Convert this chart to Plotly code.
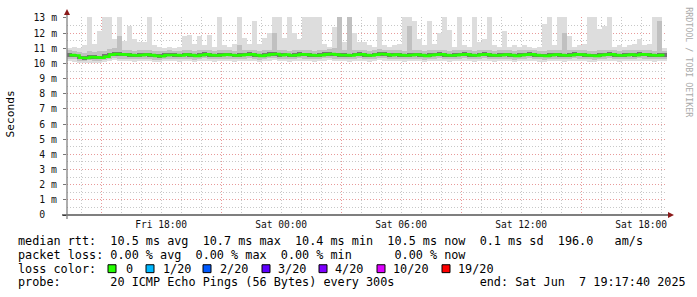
import plotly.graph_objects as go
import pandas as pd

# ---------------- data ----------------
start_time = "2025-06-06 13:17:40"
end_time = "2025-06-07 19:17:40"
step_minutes = 15

median_rtt = [
    10.55, 10.52, 10.38, 10.36, 10.42, 10.40, 10.38, 10.45, 10.58, 10.62,
    10.60, 10.58, 10.55, 10.52, 10.55, 10.58, 10.55, 10.50, 10.48, 10.55,
    10.56, 10.55, 10.52, 10.58, 10.55, 10.50, 10.55, 10.60, 10.55, 10.52,
    10.55, 10.58, 10.56, 10.52, 10.55, 10.58, 10.60, 10.55, 10.50, 10.55,
    10.60, 10.62, 10.55, 10.58, 10.52, 10.55, 10.60, 10.58, 10.55, 10.52,
    10.55, 10.60, 10.62, 10.58, 10.55, 10.55, 10.52, 10.58, 10.60, 10.55,
    10.52, 10.58, 10.62, 10.60, 10.55, 10.58, 10.55, 10.52, 10.55, 10.58,
    10.55, 10.50, 10.55, 10.58, 10.60, 10.55, 10.52, 10.55, 10.58, 10.60,
    10.55, 10.52, 10.58, 10.60, 10.55, 10.52, 10.55, 10.58, 10.55, 10.50,
    10.55, 10.58, 10.60, 10.55, 10.52, 10.50, 10.55, 10.58, 10.55, 10.52,
    10.55, 10.60, 10.58, 10.55, 10.52, 10.50, 10.55, 10.58, 10.60, 10.55,
    10.52, 10.55, 10.58, 10.55, 10.60, 10.58, 10.55, 10.52, 10.55, 10.55,
]

max_rtt = [
    11.0, 11.1, 11.0, 11.2, 13.2, 11.3, 12.15, 13.2, 13.2, 11.6,
    13.2, 11.5, 12.5, 11.6, 11.4, 11.4, 13.2, 11.2, 11.1, 11.0,
    11.1, 11.0, 11.1, 11.8, 11.85, 11.3, 11.8, 11.2, 11.9, 11.1,
    13.2, 11.2, 11.1, 11.3, 13.2, 11.7, 11.3, 12.8, 11.3, 11.7,
    12.0, 13.2, 13.2, 11.7, 13.2, 12.0, 11.6, 13.2, 13.2, 13.2,
    13.2, 11.3, 11.1, 12.4, 13.2, 11.4, 13.2, 12.0, 11.4, 11.4,
    11.2, 11.1, 13.2, 11.2, 11.1, 11.2, 11.3, 13.2, 13.2, 12.8,
    11.6, 11.2, 12.8, 11.3, 12.0, 13.2, 12.2, 11.1, 13.2, 11.2,
    11.1, 13.2, 11.4, 11.6, 13.2, 11.2, 11.1, 12.15, 11.1, 11.2,
    11.1, 11.2, 11.1, 11.0, 11.1, 12.6, 13.2, 11.2, 13.2, 13.2,
    11.8, 11.1, 11.2, 11.3, 13.2, 13.2, 12.3, 12.5, 13.2, 11.1,
    11.2, 11.1, 11.2, 11.3, 11.6, 11.2, 11.3, 13.2, 13.2, 11.0,
]

min_rtt = [
    10.15, 10.12, 10.04, 10.03, 10.06, 10.05, 10.04, 10.10, 10.18, 10.20,
    10.18, 10.15, 10.15, 10.12, 10.15, 10.18, 10.15, 10.10, 10.08, 10.14,
    10.15, 10.14, 10.12, 10.16, 10.14, 10.10, 10.14, 10.18, 10.14, 10.12,
    10.14, 10.16, 10.15, 10.12, 10.14, 10.16, 10.18, 10.14, 10.10, 10.14,
    10.18, 10.20, 10.14, 10.16, 10.12, 10.14, 10.18, 10.16, 10.14, 10.12,
    10.14, 10.18, 10.20, 10.16, 10.14, 10.14, 10.12, 10.16, 10.18, 10.14,
    10.12, 10.16, 10.20, 10.18, 10.14, 10.16, 10.14, 10.12, 10.14, 10.16,
    10.14, 10.10, 10.14, 10.16, 10.18, 10.14, 10.12, 10.14, 10.16, 10.18,
    10.14, 10.12, 10.16, 10.18, 10.14, 10.12, 10.14, 10.16, 10.14, 10.10,
    10.14, 10.16, 10.18, 10.14, 10.12, 10.10, 10.14, 10.16, 10.14, 10.12,
    10.14, 10.18, 10.16, 10.14, 10.12, 10.10, 10.14, 10.16, 10.18, 10.14,
    10.12, 10.14, 10.16, 10.14, 10.18, 10.16, 10.14, 10.12, 10.14, 10.14,
]

lo_rtt = [
    10.30, 10.28, 10.18, 10.16, 10.20, 10.18, 10.16, 10.24, 10.32, 10.34,
    10.32, 10.30, 10.30, 10.28, 10.30, 10.32, 10.30, 10.26, 10.25, 10.30,
    10.30, 10.30, 10.28, 10.32, 10.30, 10.26, 10.30, 10.34, 10.30, 10.28,
    10.30, 10.32, 10.30, 10.28, 10.30, 10.32, 10.34, 10.30, 10.26, 10.30,
    10.34, 10.36, 10.30, 10.32, 10.28, 10.30, 10.34, 10.32, 10.30, 10.28,
    10.30, 10.34, 10.36, 10.32, 10.30, 10.30, 10.28, 10.32, 10.34, 10.30,
    10.28, 10.32, 10.36, 10.34, 10.30, 10.32, 10.30, 10.28, 10.30, 10.32,
    10.30, 10.26, 10.30, 10.32, 10.34, 10.30, 10.28, 10.30, 10.32, 10.34,
    10.30, 10.28, 10.32, 10.34, 10.30, 10.28, 10.30, 10.32, 10.30, 10.26,
    10.30, 10.32, 10.34, 10.30, 10.28, 10.26, 10.30, 10.32, 10.30, 10.28,
    10.30, 10.34, 10.32, 10.30, 10.28, 10.26, 10.30, 10.32, 10.34, 10.30,
    10.28, 10.30, 10.32, 10.30, 10.34, 10.32, 10.30, 10.28, 10.30, 10.30,
]

hi_rtt = [
    10.88, 10.85, 10.75, 10.72, 10.80, 10.78, 10.80, 10.85, 10.95, 11.00,
    11.80, 10.92, 10.88, 10.85, 10.88, 10.90, 10.88, 10.82, 10.80, 10.85,
    10.88, 10.85, 10.82, 10.90, 10.88, 10.82, 10.88, 10.92, 10.88, 10.84,
    10.88, 10.90, 10.88, 10.84, 11.20, 10.90, 10.92, 10.88, 10.82, 10.88,
    10.92, 12.00, 10.88, 10.90, 10.84, 10.88, 10.92, 10.90, 10.88, 10.84,
    10.88, 10.92, 10.95, 11.00, 13.20, 10.88, 13.20, 10.90, 10.92, 10.88,
    10.84, 10.90, 10.95, 10.92, 10.88, 10.90, 10.88, 10.84, 12.50, 10.90,
    10.88, 10.82, 10.88, 10.90, 10.92, 10.88, 10.84, 10.88, 10.90, 10.92,
    10.88, 10.84, 10.90, 10.92, 10.88, 10.84, 10.88, 10.90, 10.88, 10.82,
    10.88, 10.90, 10.92, 10.88, 10.84, 10.82, 10.88, 10.90, 10.88, 12.00,
    10.88, 10.92, 10.90, 10.88, 10.84, 10.82, 10.88, 10.90, 10.92, 10.88,
    10.84, 10.88, 10.90, 10.88, 10.92, 10.90, 10.88, 10.84, 12.80, 10.85,
]

q1_rtt = [
    10.45, 10.42, 10.28, 10.26, 10.32, 10.30, 10.28, 10.36, 10.48, 10.52,
    10.50, 10.48, 10.45, 10.42, 10.45, 10.48, 10.45, 10.40, 10.38, 10.45,
    10.46, 10.45, 10.42, 10.48, 10.45, 10.40, 10.45, 10.50, 10.45, 10.42,
    10.45, 10.48, 10.46, 10.42, 10.45, 10.48, 10.50, 10.45, 10.40, 10.45,
    10.50, 10.52, 10.45, 10.48, 10.42, 10.45, 10.50, 10.48, 10.45, 10.42,
    10.45, 10.50, 10.52, 10.48, 10.45, 10.45, 10.42, 10.48, 10.50, 10.45,
    10.42, 10.48, 10.52, 10.50, 10.45, 10.48, 10.45, 10.42, 10.45, 10.48,
    10.45, 10.40, 10.45, 10.48, 10.50, 10.45, 10.42, 10.45, 10.48, 10.50,
    10.45, 10.42, 10.48, 10.50, 10.45, 10.42, 10.45, 10.48, 10.45, 10.40,
    10.45, 10.48, 10.50, 10.45, 10.42, 10.40, 10.45, 10.48, 10.45, 10.42,
    10.45, 10.50, 10.48, 10.45, 10.42, 10.40, 10.45, 10.48, 10.50, 10.45,
    10.42, 10.45, 10.48, 10.45, 10.50, 10.48, 10.45, 10.42, 10.45, 10.45,
]

q3_rtt = [
    10.68, 10.65, 10.52, 10.50, 10.56, 10.55, 10.52, 10.60, 10.72, 10.76,
    10.74, 10.70, 10.68, 10.65, 10.68, 10.72, 10.68, 10.62, 10.60, 10.68,
    10.68, 10.66, 10.64, 10.72, 10.68, 10.62, 10.68, 10.74, 10.68, 10.64,
    10.68, 10.72, 10.70, 10.64, 10.68, 10.72, 10.75, 10.68, 10.62, 10.68,
    10.74, 10.78, 10.68, 10.72, 10.64, 10.68, 10.74, 10.72, 10.68, 10.64,
    10.68, 10.74, 10.78, 10.72, 10.70, 10.68, 10.64, 10.72, 10.74, 10.68,
    10.64, 10.72, 10.76, 10.74, 10.68, 10.72, 10.68, 10.64, 10.68, 10.72,
    10.68, 10.62, 10.68, 10.72, 10.74, 10.68, 10.64, 10.68, 10.72, 10.74,
    10.68, 10.64, 10.72, 10.74, 10.68, 10.64, 10.68, 10.72, 10.68, 10.62,
    10.68, 10.72, 10.74, 10.68, 10.64, 10.62, 10.68, 10.72, 10.68, 10.64,
    10.68, 10.74, 10.72, 10.68, 10.64, 10.62, 10.68, 10.72, 10.74, 10.68,
    10.64, 10.68, 10.72, 10.68, 10.74, 10.72, 10.68, 10.64, 10.68, 10.66,
]

x_label_times = ["2025-06-06 18:00", "2025-06-07 00:00", "2025-06-07 06:00",
                 "2025-06-07 12:00", "2025-06-07 18:00"]
x_label_texts = ["Fri 18:00", "Sat 00:00", "Sat 06:00", "Sat 12:00", "Sat 18:00"]
x_major_grid_times = ["2025-06-06 15:00", "2025-06-06 21:00", "2025-06-07 03:00",
                      "2025-06-07 09:00", "2025-06-07 15:00"]

y_tick_values = list(range(0, 14))
y_tick_texts = ["0\u00a0\u00a0"] + [f"{v}\u00a0m" for v in range(1, 14)]

loss_labels = ["0", "1/20", "2/20", "3/20", "4/20", "10/20", "19/20"]
loss_colors = ["#26ff00", "#00b8ff", "#0059ff", "#5e00ff", "#7e00ff", "#dd00ff", "#ff0000"]

legend_lines = [
    "median rtt:  10.5 ms avg  10.7 ms max  10.4 ms min  10.5 ms now  0.1 ms sd  196.0   am/s",
    "packet loss: 0.00 % avg  0.00 % max  0.00 % min      0.00 % now",
    "loss color:",
    "probe:       20 ICMP Echo Pings (56 Bytes) every 300s            end: Sat Jun  7 19:17:40 2025",
]

# ---------------- geometry ----------------
W, H = 697, 297
L, R, T, B = 67, 30, 14, 82
PW, PH = W - L - R, H - T - B
Y_TOP = PH / (200 / 13)  # 13 ms spans 200 px


def px(xp):
    return (xp - L) / PW


def py(yp):
    return (H - B - yp) / PH


t0 = pd.Timestamp(start_time)
t1 = pd.Timestamp(end_time)
step = pd.Timedelta(minutes=step_minutes)
x_centers = [t0 + step * (i + 0.5) for i in range(len(median_rtt))]
bar_w = step / pd.Timedelta(milliseconds=1)

fig = go.Figure()


def band(lower, upper, color):
    fig.add_trace(go.Bar(
        x=x_centers, y=[u - l for l, u in zip(lower, upper)], base=lower,
        width=bar_w, marker=dict(color=color, line=dict(width=0)),
        hoverinfo="skip", showlegend=False))


band(min_rtt, max_rtt, "#dddddd")
band(lo_rtt, hi_rtt, "#c0c0c0")
band(q1_rtt, q3_rtt, "#747474")

fig.add_trace(go.Scatter(
    x=x_centers, y=median_rtt, mode="lines",
    line=dict(color="#26ff00", width=2.6, shape="hv"),
    hoverinfo="skip", showlegend=False))

# helper trace for the overlay axis carrying the 6-hour grid
fig.add_trace(go.Scatter(x=[t0, t1], y=[0, 0], xaxis="x2", mode="lines",
                         line=dict(width=0), opacity=0, hoverinfo="skip",
                         showlegend=False))

hourly = pd.date_range("2025-06-06 14:00", "2025-06-07 19:00", freq="1h")
major_set = set(pd.to_datetime(x_major_grid_times))
label_map = dict(zip(pd.to_datetime(x_label_times), x_label_texts))
grey_ticks = [t for t in hourly if t not in major_set]
grey_text = [label_map.get(t, "") for t in grey_ticks]

mono = "DejaVu Sans Mono"
red_grid = "#e89a9a"
grey_grid = "#c8c8c8"
dash = "1px,2px"

fig.update_layout(
    width=W, height=H,
    margin=dict(l=L, r=R, t=T, b=B, pad=0),
    paper_bgcolor="white", plot_bgcolor="white",
    barmode="overlay", bargap=0,
    showlegend=False,
    xaxis=dict(range=[t0, t1], tickmode="array", tickvals=grey_ticks, ticktext=grey_text,
               showgrid=True, gridcolor=grey_grid, griddash=dash, gridwidth=1,
               ticks="", showline=False, zeroline=False,
               tickfont=dict(family=mono, size=9.6, color="#111"),
               ticklabelstandoff=2, fixedrange=True),
    xaxis2=dict(range=[t0, t1], overlaying="x", anchor="y", tickmode="array",
                tickvals=pd.to_datetime(x_major_grid_times), showticklabels=False,
                showgrid=True, gridcolor=red_grid, griddash=dash, gridwidth=1,
                ticks="", showline=False, zeroline=False),
    yaxis=dict(range=[0, Y_TOP], tickmode="array", tickvals=y_tick_values,
               ticktext=y_tick_texts, showgrid=True, gridcolor=red_grid,
               griddash=dash, gridwidth=1, zeroline=False, showline=False,
               ticks="outside", ticklen=3, tickcolor="#777",
               tickfont=dict(family=mono, size=9.8, color="#111"),
               ticklabelstandoff=4,
               minor=dict(dtick=0.5, tick0=0, showgrid=True, gridcolor=grey_grid,
                          griddash=dash, ticks=""),
               fixedrange=True),
)

shapes = []
# axis lines
shapes.append(dict(type="line", xref="paper", yref="paper", x0=px(62), x1=px(670),
                   y0=py(215), y1=py(215), line=dict(color="#000", width=1.2), layer="above"))
shapes.append(dict(type="line", xref="paper", yref="paper", x0=px(67), x1=px(67),
                   y0=py(219), y1=py(11), line=dict(color="#777", width=1.2), layer="above"))
# arrow heads
shapes.append(dict(type="path", xref="paper", yref="paper",
                   path=f"M {px(67)} {py(6)} L {px(64)} {py(12)} L {px(70)} {py(12)} Z",
                   fillcolor="#8b1a1a", line=dict(width=0), layer="above"))
shapes.append(dict(type="path", xref="paper", yref="paper",
                   path=f"M {px(674)} {py(215)} L {px(668)} {py(212)} L {px(668)} {py(218)} Z",
                   fillcolor="#8b1a1a", line=dict(width=0), layer="above"))

annotations = []
line_y = [241.5, 255.5, 269.5, 283.5]
for txt, yy in zip(legend_lines, line_y):
    annotations.append(dict(text=txt.replace(" ", "\u00a0"), xref="paper", yref="paper",
                            x=px(16), y=py(yy), xanchor="left", yanchor="middle",
                            showarrow=False, font=dict(family=mono, size=11.8, color="#000")))

square_x = [108, 146, 203, 262, 319, 377, 442]
label_x = [124, 161, 218, 276, 333, 391, 456]
for sx, lx, lab, col in zip(square_x, label_x, loss_labels, loss_colors):
    shapes.append(dict(type="rect", xref="paper", yref="paper",
                       x0=px(sx), x1=px(sx + 8), y0=py(265.5), y1=py(273.5),
                       fillcolor=col, line=dict(color="#000", width=1), layer="above"))
    annotations.append(dict(text=lab, xref="paper", yref="paper", x=px(lx), y=py(269.5),
                            xanchor="left", yanchor="middle", showarrow=False,
                            font=dict(family=mono, size=11.8, color="#000")))

annotations.append(dict(text="Seconds", xref="paper", yref="paper", x=px(11), y=py(113),
                        xanchor="center", yanchor="middle", textangle=-90, showarrow=False,
                        font=dict(family=mono, size=11.2, color="#000")))
annotations.append(dict(text="RRDTOOL\u00a0/\u00a0TOBI\u00a0OETIKER", xref="paper", yref="paper",
                        x=px(689), y=py(60), xanchor="center", yanchor="middle",
                        textangle=90, showarrow=False,
                        font=dict(family=mono, size=8.3, color="#aaaaaa")))

fig.update_layout(shapes=shapes, annotations=annotations)
fig.write_html("out.html")
